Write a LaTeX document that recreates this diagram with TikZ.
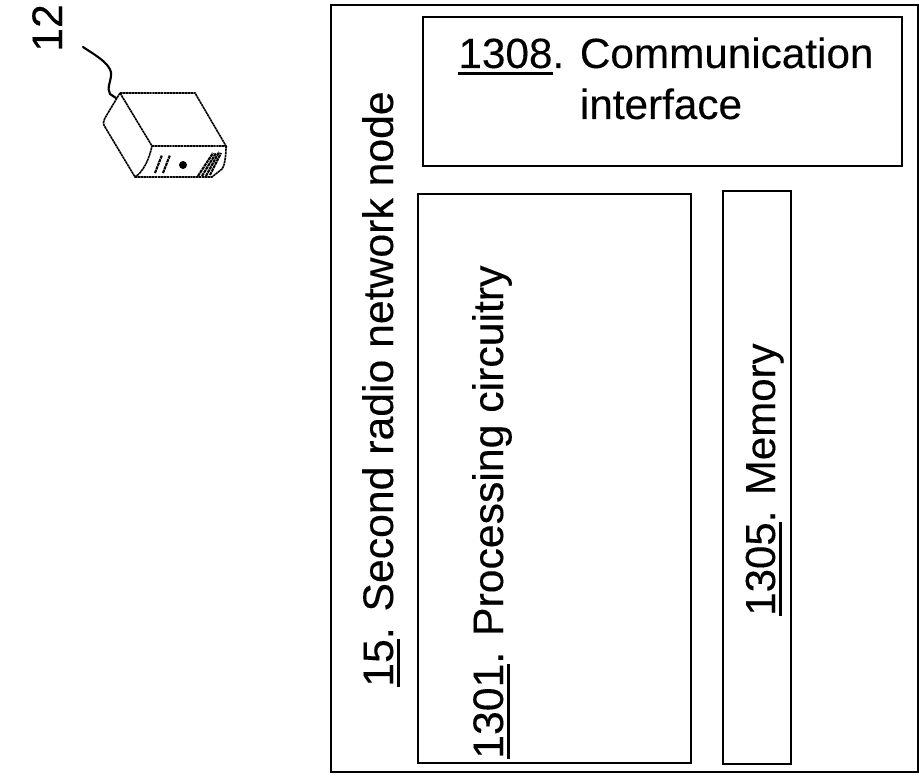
\documentclass[tikz,border=0pt]{standalone}
\usepackage{fontspec}
\setmainfont[FakeBold=0.2,AutoFakeBold=0.2]{Liberation Sans}
\newsavebox{\ulbox}
\newcommand{\ul}[1]{\sbox{\ulbox}{#1}\rlap{\rule[-0.165em]{\wd\ulbox}{0.07em}}\usebox{\ulbox}}
\tikzset{
  x=0.75pt,y=-0.75pt,
  outerframe/.style={draw=black,line width=2pt},
  frame/.style={draw=black,line width=1.6pt},
  lbl/.style={font=\fontsize{31.7}{38}\selectfont,inner sep=0pt,text=black},
  vlbl/.style={font=\fontsize{32.05}{38}\selectfont,inner sep=0pt,text=black,rotate=90},
  dev/.style={draw=black,line width=1.2pt,dash pattern=on 1.8pt off 0.4pt},
  cable/.style={draw=black,line width=1.6pt,line cap=round},
  vent/.style={draw=black,line width=1.6pt,dash pattern=on 2.4pt off 0.5pt}
}
\begin{document}
\begin{tikzpicture}
\useasboundingbox (0,0) rectangle (919,780);
\fill[white] (0,0) rectangle (919,780);
% boxes
\coordinate (o1) at (331,5); \coordinate (o2) at (918,772);
\draw[outerframe] (o1) rectangle (o2);
\coordinate (c1) at (423,17); \coordinate (c2) at (902,166);
\draw[frame] (c1) rectangle (c2);
\coordinate (p1) at (418,194); \coordinate (p2) at (691,763);
\draw[frame] (p1) rectangle (p2);
\coordinate (m1) at (723,191); \coordinate (m2) at (791,764);
\draw[frame] (m1) rectangle (m2);
% labels
\node[lbl,anchor=base] (t1308) at (666,68) {\ul{1308}. Communication};
\node[lbl,anchor=base] (tif) at (661,119) {interface};
\node[vlbl,anchor=base west] (t15) at (393,687) {\ul{15}. Second radio network node};
\node[vlbl,anchor=base west] (t1301) at (503,759) {\ul{1301}. Processing circuitry};
\node[vlbl,font=\fontsize{31.5}{38}\selectfont,anchor=base west] (t1305) at (775,616) {\ul{1305}. Memory};
\node[vlbl,anchor=base west] (t12) at (62,52) {12};
% device
\draw[cable] (83,47) .. controls (95,55) and (108,62) .. (111,72) .. controls (112,80) and (106,88) .. (110,94) -- (116,98);
\draw[dev] (120,93) -- (195,93) -- (226,146) -- (152,146) -- cycle;
\draw[dev] (120,93) -- (105,118) .. controls (103,122) and (103,124) .. (105,127) -- (135,177) .. controls (143,172) and (149,160) .. (152,146);
\draw[dev] (226,146) .. controls (226,155) and (225,165) .. (222,169) -- (212,177) -- (135,177);
\foreach \a/\b/\c/\d in {155/173/162/155, 163/173/170/155, 198/176/213/153, 202/176/216/153, 206/176/219/152, 210/175/221/153}
  \draw[vent] (\a,\b) -- (\c,\d);
\fill[black] (183,165) circle (4);
\end{tikzpicture}
\end{document}
